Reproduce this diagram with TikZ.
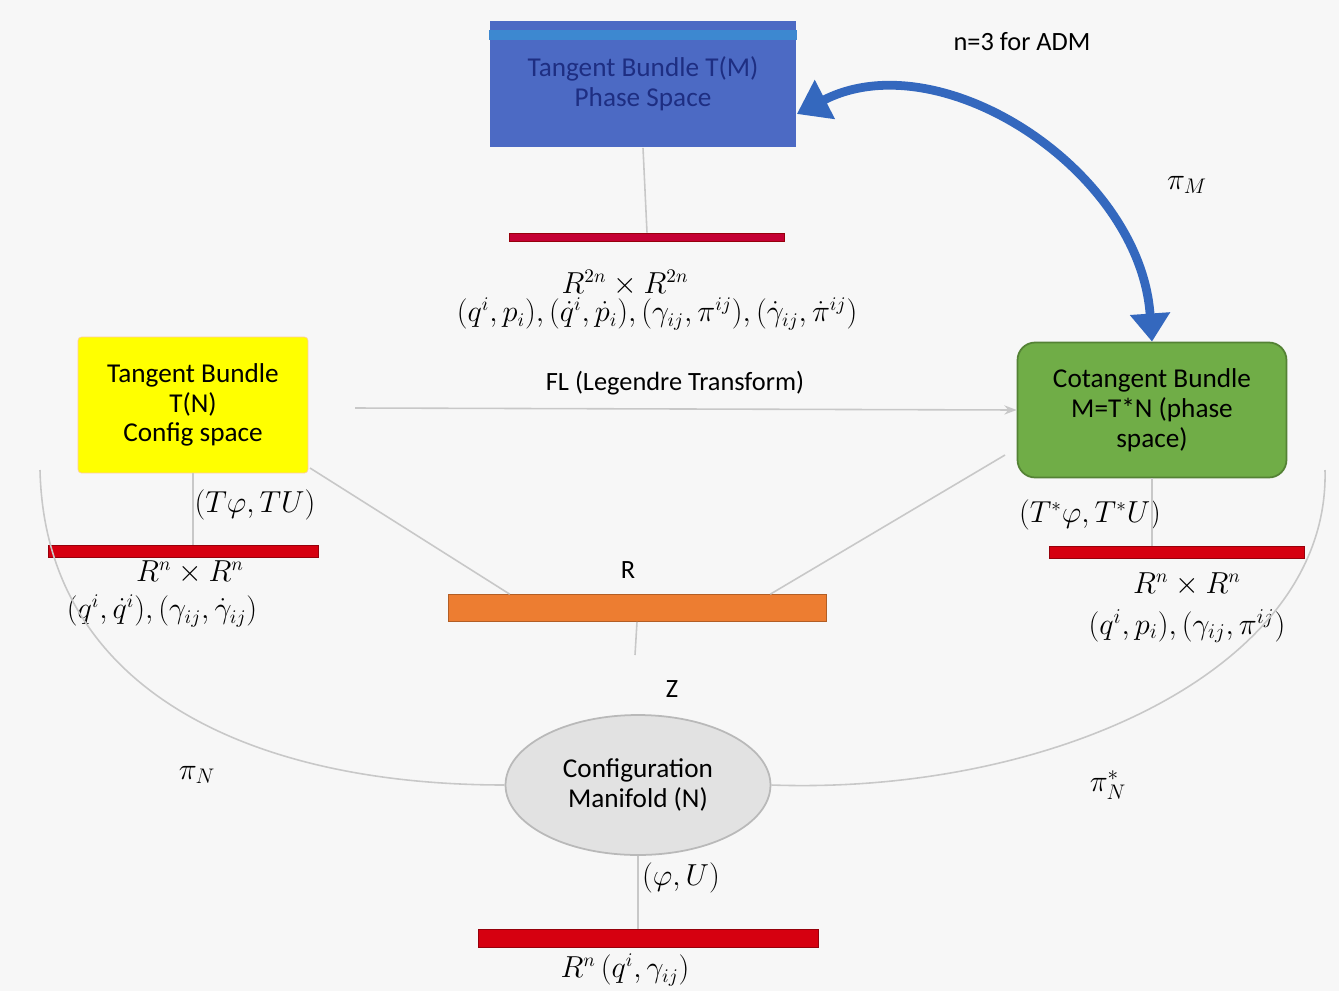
\documentclass[tikz,border=0pt]{standalone}
\usepackage{fontspec}
\usepackage{amsmath}
\usetikzlibrary{arrows.meta,shapes.geometric}
\newfontfamily\boxfont{Carlito}
\definecolor{pagegray}{RGB}{247,247,247}
\definecolor{linkgray}{RGB}{200,200,200}
\definecolor{phaseblue}{RGB}{76,106,196}
\definecolor{phasetext}{RGB}{30,46,130}
\definecolor{arcblue}{RGB}{52,104,190}
\definecolor{tanyellow}{RGB}{255,255,0}
\definecolor{cotgreen}{RGB}{112,173,71}
\definecolor{cotedge}{RGB}{84,130,53}
\definecolor{barred}{RGB}{214,0,16}
\definecolor{topred}{RGB}{196,0,52}
\definecolor{realorange}{RGB}{237,125,49}
\definecolor{cfggray}{RGB}{226,226,226}

\begin{document}
\begin{tikzpicture}[x=0.02cm,y=-0.02cm,>=Stealth,
  bundle/.style={align=center,font=\boxfont\fontsize{15.5}{17}\selectfont,inner sep=2pt},
  bar/.style={fill=barred,inner sep=0pt,draw=barred!70!black,line width=0.4pt},
  link/.style={draw=linkgray,line width=0.9pt},
  mlabel/.style={font=\fontsize{16}{16}\selectfont,inner sep=1pt,align=center},
  tlabel/.style={font=\boxfont\fontsize{15}{17}\selectfont}]

% Page
\fill[pagegray] (0,0) rectangle (1339,991);
\useasboundingbox (0,0) rectangle (1339,991);

% Bundles and manifold
\node[bundle,fill=phaseblue,text=phasetext,minimum width=6.14cm,minimum height=2.54cm]
  (tm) at (643,84) {Tangent Bundle T(M)\\Phase Space};
\fill[phaseblue!80!cyan] ([yshift=-0.2cm]tm.north west) rectangle ([yshift=-0.4cm]tm.north east);
\node[bundle,fill=tanyellow,draw=orange!40,rounded corners=2pt,
  minimum width=4.6cm,minimum height=2.72cm] (tn) at (193,405)
  {Tangent Bundle\\T(N)\\Config space};
\node[bundle,fill=cotgreen,draw=cotedge,line width=1pt,rounded corners=10pt,
  minimum width=5.38cm,minimum height=2.7cm] (mstar) at (1152,410)
  {Cotangent Bundle\\M=T*N (phase\\space)};
\node[bundle,ellipse,fill=cfggray,draw=gray!55,line width=1pt,
  minimum width=5.3cm,minimum height=2.8cm] (cfg) at (638,785)
  {Configuration\\Manifold (N)};

% Charts (bars)
\node[bar,fill=topred,minimum width=5.5cm,minimum height=0.16cm] (topbar) at (647,237) {};
\node[bar,minimum width=5.4cm,minimum height=0.24cm] (leftbar) at (183,551) {};
\node[bar,minimum width=5.1cm,minimum height=0.24cm] (rightbar) at (1177,552) {};
\node[bar,minimum width=6.8cm,minimum height=0.36cm] (botbar) at (648,938) {};
\node[bar,fill=realorange,draw=realorange!75!black,minimum width=7.56cm,
  minimum height=0.54cm] (rbar) at (637,608) {};

% Text labels
\node[tlabel] (adm) at (1022,42) {n=3 for ADM};
\node[mlabel,font=\fontsize{18}{18}\selectfont] (pim) at (1187,185) {$\pi_M$};
\node[mlabel] (topco) at (657,300)
  {$R^{2n}\times R^{2n}$\hspace*{1.28cm}\\
   $(q^i,p_i),({\dot q}^i,{\dot p}_i),(\gamma_{ij},\pi^{ij}),({\dot\gamma}_{ij},{\dot\pi}^{ij})$};
\node[tlabel] (fl) at (675,383) {FL (Legendre Transform)};
\node[mlabel] (tphi) at (255,505) {$(T\varphi,TU)$};
\node[mlabel] (lco) at (162,594)
  {\hspace*{1.12cm}$R^n\times R^n$\\[5pt]$(q^i,{\dot q}^i),(\gamma_{ij},{\dot\gamma}_{ij})$};
\node[mlabel] (tsphi) at (1090,515) {$(T^*\varphi,T^*U)$};
\node[mlabel] (rco) at (1187,608)
  {$R^n\times R^n$\\[7pt]{\fontsize{18}{18}\selectfont$(q^i,p_i),(\gamma_{ij},\pi^{ij})$}};
\node[tlabel] (rlab) at (628,570) {R};
\node[tlabel] (zlab) at (672,689) {Z};
\node[mlabel,font=\fontsize{18}{18}\selectfont] (pin) at (197,775) {$\pi_N$};
\node[mlabel,font=\fontsize{18}{18}\selectfont] (pisn) at (1108,785) {$\pi^*_N$};
\node[mlabel] (phiu) at (681,878) {$(\varphi,U)$};
\node[mlabel] (bco) at (625,970) {$R^n\,(q^i,\gamma_{ij})$};

% Free ends
\coordinate (flstart) at (355,408);
\coordinate (zend) at (635,655);
\coordinate (ltop) at (40,470);
\coordinate (rtop) at (1325,470);
\coordinate (tnfoot) at (310,468);
\coordinate (mfoot) at (1005,455);

% Connectors
\draw[link] (tm.south) -- (topbar.north);
\draw[link] (tn.south) -- (tn.south |- leftbar.north);
\draw[link] (mstar.south) -- (mstar.south |- rightbar.north);
\draw[link] (tnfoot) -- ([xshift=62*0.02cm]rbar.north west);
\draw[link] (mfoot) -- ([xshift=-56*0.02cm]rbar.north east);
\draw[link] (rbar.south) -- (zend);
\draw[link] (cfg.south) -- (cfg.south |- botbar.north);
\draw[link,->] (flstart) -- (mstar.west);
\draw[link] (ltop) .. controls (45,690) and (250,785) .. (cfg.west);
\draw[link] (rtop) .. controls (1330,670) and (1050,795) .. (cfg.east);

% Curved arrow from phase space to cotangent bundle
\draw[arcblue,line width=5pt,{Triangle[length=18pt,width=24pt]}-{Triangle[length=16pt,width=22pt]}]
  ([yshift=-0.6cm]tm.east) .. controls (940,40) and (1140,170) .. (mstar.north);

\end{tikzpicture}
\end{document}
